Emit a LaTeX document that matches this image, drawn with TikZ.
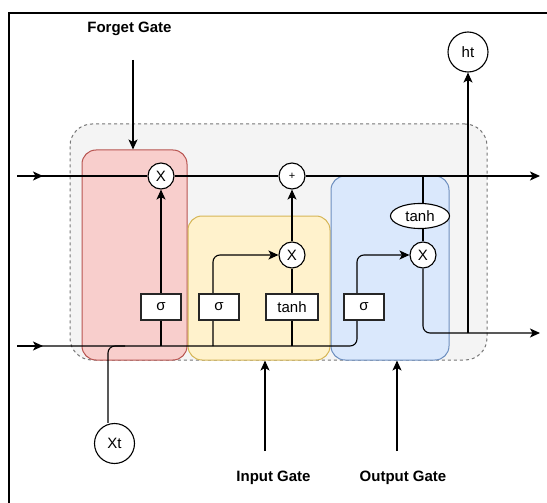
\documentclass[tikz,border=0pt]{standalone}
\usepackage{fontspec}
\setmainfont{Liberation Sans}
\usetikzlibrary{arrows.meta,shapes.geometric}
\pgfdeclarelayer{bg}
\pgfdeclarelayer{fg}
\pgfsetlayers{bg,main,fg}
\definecolor{redf}{HTML}{F8CECC}\definecolor{redd}{HTML}{B85450}
\definecolor{yelf}{HTML}{FFF2CC}\definecolor{yeld}{HTML}{D6B656}
\definecolor{bluf}{HTML}{DAE8FC}\definecolor{blud}{HTML}{6C8EBF}
\definecolor{grayf}{HTML}{F4F4F4}\definecolor{grayd}{HTML}{777777}
\begin{document}
\begin{tikzpicture}[x=1pt,y=-1pt,
  every node/.style={font=\fontsize{15}{18}\selectfont},
  conn/.style={line width=1.1pt,black},
  arr/.style={conn,-{Stealth[length=10pt,width=9pt,inset=2.5pt]}},
  opcircle/.style={circle,draw,line width=1.1pt,fill=white,minimum size=26pt,inner sep=0pt},
  iocircle/.style={circle,draw,line width=1.1pt,fill=white,minimum size=40pt,inner sep=0pt},
  actbox/.style={rectangle,draw=black!85,line width=1.1pt,fill=white,minimum height=26pt,inner sep=0pt},
  gatebox/.style={rectangle,rounded corners=14pt,line width=1pt,inner sep=0pt},
  label/.style={font=\bfseries\fontsize{15}{18}\selectfont}
]
\useasboundingbox (0,0) rectangle (547,503);

\begin{pgfonlayer}{bg}
\fill[white] (0,0) rectangle (547,503);
\node[rectangle,rounded corners=22pt,draw=grayd,dashed,line width=1pt,fill=grayf,
      minimum width=417pt,minimum height=236pt] (cell) at (278.5,242) {};
\node[gatebox,fill=redf,draw=redd,minimum width=105pt,minimum height=210pt] (forgetbox) at (134.5,255) {};
\node[gatebox,fill=yelf,draw=yeld,minimum width=142pt,minimum height=144pt] (inputbox) at (259,288) {};
\node[gatebox,fill=bluf,draw=blud,minimum width=118pt,minimum height=184pt] (outputbox) at (390,268) {};
\end{pgfonlayer}

% frame
\draw[line width=2pt] (8.5,503) -- (8.5,13.5) -- (547,13.5);

\begin{pgfonlayer}{fg}
\node[opcircle] (X1) at (161,176) {X};
\node[opcircle] (plus) at (292,176) {\fontsize{11}{12}\selectfont +};
\node[opcircle] (X2) at (292,255) {X};
\node[opcircle] (X3) at (423,255) {X};
\node[actbox,minimum width=40pt] (s1) at (161,307) {σ};
\node[actbox,minimum width=40pt] (s2) at (219,307) {σ};
\node[actbox,minimum width=52pt] (th) at (292,307) {tanh};
\node[actbox,minimum width=40pt] (s3) at (364,307) {σ};
\node[ellipse,draw,line width=1.1pt,fill=white,minimum width=59pt,minimum height=25pt,inner sep=0pt] (th2) at (420,216) {tanh};
\node[iocircle] (ht) at (468,52) {ht};
\node[iocircle] (xt) at (114.5,443.5) {Xt};
\node[label] (fglab) at (129.5,29) {Forget Gate};
\node[label] (iglab) at (273.5,478) {Input Gate};
\node[label] (oglab) at (403,478) {Output Gate};
\end{pgfonlayer}

% coordinates
\coordinate (cin) at (17,176);
\coordinate (cinA) at (43,176);
\coordinate (cout) at (540,176);
\coordinate (hin) at (17,346);
\coordinate (hinA) at (43,346);
\coordinate (hout) at (540,333);
\coordinate (j1) at (161,346);
\coordinate (j2) at (213,346);
\coordinate (j3) at (292,346);
\coordinate (c3) at (357,255);
\coordinate (co) at (423,176);
\coordinate (hj) at (468,333);
\coordinate (xtj) at (125,346);
\coordinate (fgsrc) at (133,60);
\coordinate (igsrc) at (265,451);
\coordinate (ogsrc) at (397,451);

% cell state line
\draw[conn] (cin) -- (X1);
\draw[arr] (cin) -- (cinA);
\draw[conn] (X1) -- (plus);
\draw[arr] (plus) -- (cout);
% hidden input line
\draw[arr] (hin) -- (hinA);
\draw[arr,rounded corners=7pt] (hin) -| (c3) -- (X3.west);
% Xt
\draw[conn,rounded corners=7pt] (xt.north -| 108,0) |- (xtj);
% forget gate
\draw[arr] (j1) -- (X1.south);
\draw[arr] (fgsrc) -- (fgsrc |- forgetbox.north);
% input gate
\draw[arr,rounded corners=7pt] (j2) |- (X2.west);
\draw[conn] (j3) -- (X2.south);
\draw[arr] (X2.north) -- (plus.south);
\draw[arr] (igsrc) -- (igsrc |- inputbox.south);
% output gate
\draw[conn] (co) -- (X3.north);
\draw[arr,rounded corners=7pt] (X3.south) |- (hout);
\draw[arr] (hj) -- (ht.south);
\draw[arr] (ogsrc) -- (ogsrc |- outputbox.south);
\end{tikzpicture}
\end{document}
